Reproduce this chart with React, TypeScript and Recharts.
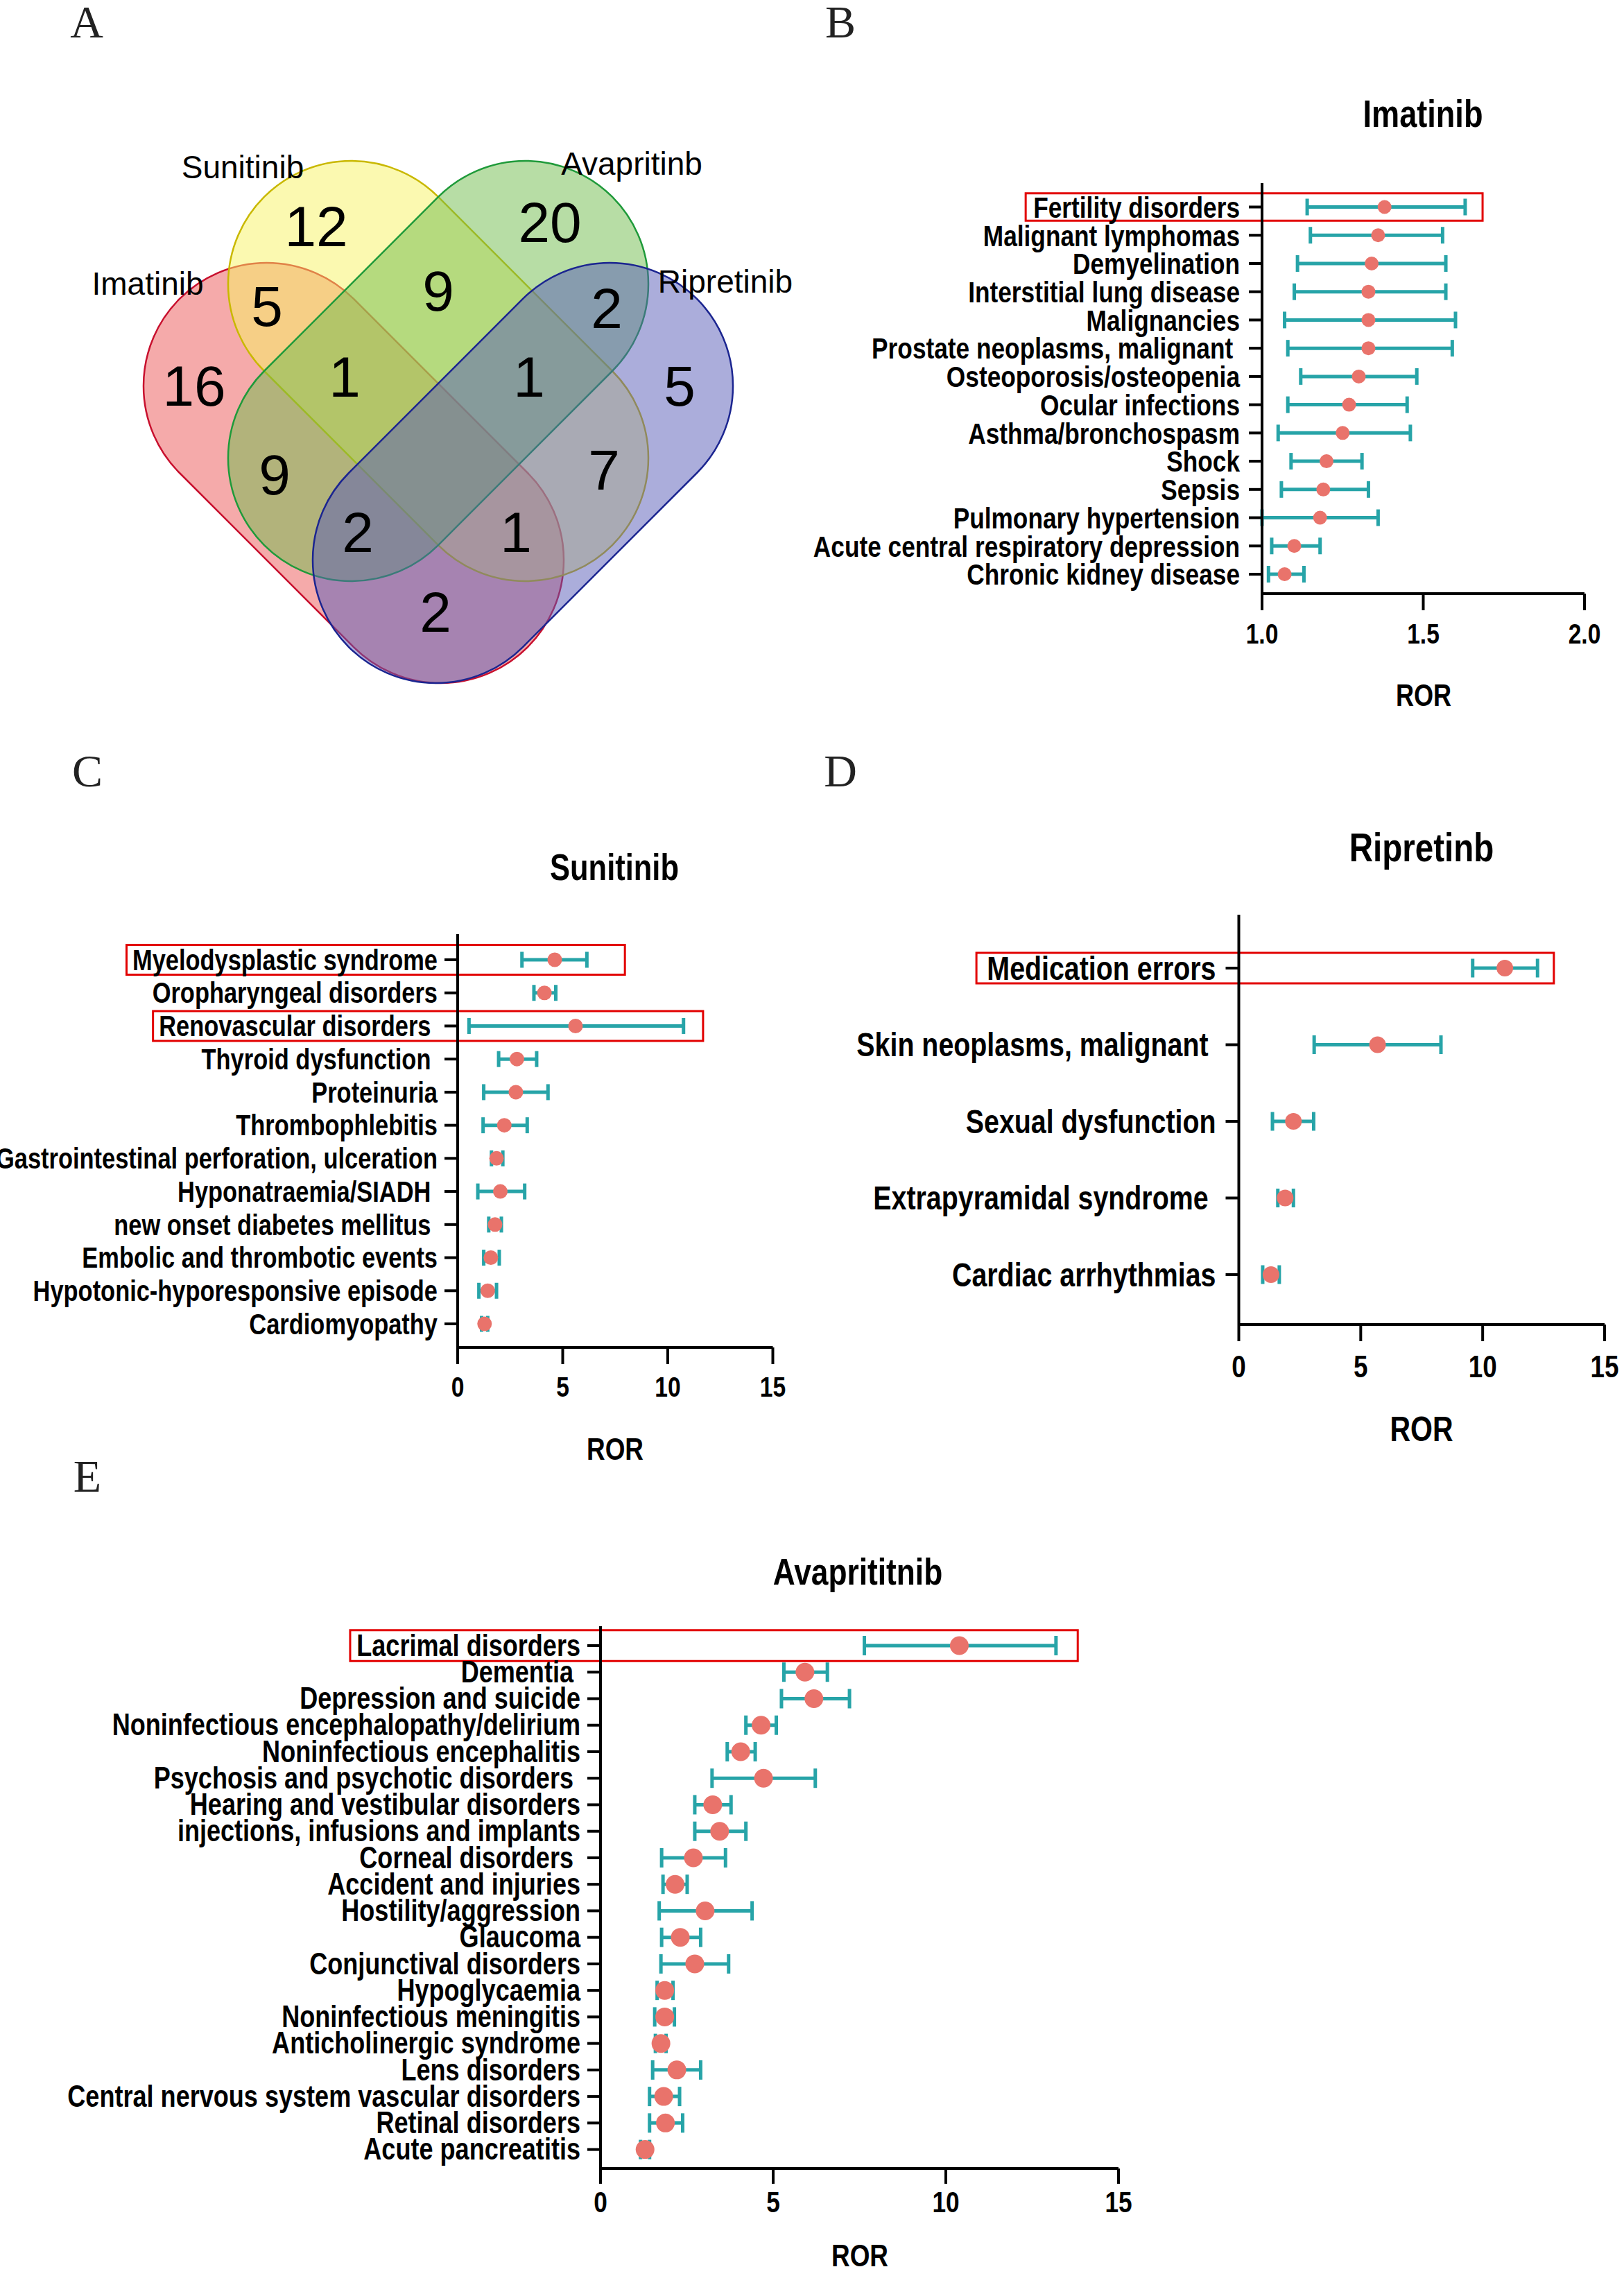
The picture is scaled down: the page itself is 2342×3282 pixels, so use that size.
import React from "react";
import { ScatterChart, Scatter, XAxis, YAxis, ErrorBar, ReferenceArea } from "recharts";

// ---------- panel A: venn counts ----------
const vennSets = ["Imatinib", "Sunitinib", "Avapritinb", "Ripretinib"];
const vennSetX = [510, 632, 632, 754];
const vennSetY = [682, 535, 535, 682];
const vennLabelX = [213, 350, 911, 1046];
const vennLabelY = [409, 241, 236, 406];
const vennCounts = [12, 20, 5, 9, 2, 16, 1, 1, 5, 9, 7, 2, 1, 2];
const vennCountX = [456, 793, 385, 632, 875, 280, 497, 763, 980, 396, 871, 516, 744, 628];
const vennCountY = [326, 320, 441, 419, 444, 556, 543, 543, 556, 684, 677, 767, 767, 882];

// ---------- panel B: Imatinib ----------
const imatinibNames = [
  "Fertility disorders",
  "Malignant lymphomas",
  "Demyelination",
  "Interstitial lung disease",
  "Malignancies",
  "Prostate neoplasms, malignant\u00a0",
  "Osteoporosis/osteopenia",
  "Ocular infections",
  "Asthma/bronchospasm",
  "Shock",
  "Sepsis",
  "Pulmonary hypertension",
  "Acute central respiratory depression",
  "Chronic kidney disease",
];
const imatinibRor = [1.38, 1.36, 1.34, 1.33, 1.33, 1.33, 1.3, 1.27, 1.25, 1.2, 1.19, 1.18, 1.1, 1.07];
const imatinibLow = [1.14, 1.15, 1.11, 1.1, 1.07, 1.08, 1.12, 1.08, 1.05, 1.09, 1.06, 1.0, 1.03, 1.02];
const imatinibHigh = [1.63, 1.56, 1.57, 1.57, 1.6, 1.59, 1.48, 1.45, 1.46, 1.31, 1.33, 1.36, 1.18, 1.13];
const imatinibTicks = [1.0, 1.5, 2.0];

// ---------- panel C: Sunitinib ----------
const sunitinibNames = [
  "Myelodysplastic syndrome",
  "Oropharyngeal disorders",
  "Renovascular disorders\u00a0",
  "Thyroid dysfunction\u00a0",
  "Proteinuria",
  "Thrombophlebitis",
  "Gastrointestinal perforation, ulceration",
  "Hyponatraemia/SIADH\u00a0",
  "new onset diabetes mellitus\u00a0",
  "Embolic and thrombotic events",
  "Hypotonic-hyporesponsive episode",
  "Cardiomyopathy",
];
const sunitinibRor = [4.62, 4.13, 5.61, 2.82, 2.77, 2.22, 1.85, 2.03, 1.78, 1.58, 1.43, 1.28];
const sunitinibLow = [3.06, 3.63, 0.54, 1.95, 1.24, 1.21, 1.61, 0.96, 1.48, 1.24, 1.01, 1.14];
const sunitinibHigh = [6.15, 4.67, 10.75, 3.76, 4.3, 3.31, 2.15, 3.19, 2.08, 1.98, 1.85, 1.43];

// ---------- panel D: Ripretinib ----------
const ripretinibNames = [
  "Medication errors",
  "Skin neoplasms, malignant\u00a0",
  "Sexual dysfunction",
  "Extrapyramidal syndrome\u00a0",
  "Cardiac arrhythmias",
];
const ripretinibRor = [10.91, 5.69, 2.24, 1.9, 1.32];
const ripretinibLow = [9.59, 3.09, 1.38, 1.6, 0.98];
const ripretinibHigh = [12.25, 8.29, 3.07, 2.24, 1.66];

// ---------- panel E: Avapritinib ----------
const avapritinibNames = [
  "Lacrimal disorders",
  "Dementia\u00a0",
  "Depression and suicide",
  "Noninfectious encephalopathy/delirium",
  "Noninfectious encephalitis",
  "Psychosis and psychotic disorders\u00a0",
  "Hearing and vestibular disorders",
  "injections, infusions and implants",
  "Corneal disorders\u00a0",
  "Accident and injuries",
  "Hostility/aggression",
  "Glaucoma",
  "Conjunctival disorders",
  "Hypoglycaemia",
  "Noninfectious meningitis",
  "Anticholinergic syndrome",
  "Lens disorders",
  "Central nervous system vascular disorders",
  "Retinal disorders",
  "Acute pancreatitis",
];
const avapritinibRor = [10.39, 5.92, 6.18, 4.65, 4.06, 4.72, 3.25, 3.45, 2.69, 2.16, 3.03, 2.31, 2.73, 1.86, 1.86, 1.75, 2.21, 1.83, 1.88, 1.29];
const avapritinibLow = [7.64, 5.31, 5.24, 4.21, 3.67, 3.23, 2.73, 2.73, 1.77, 1.81, 1.7, 1.77, 1.75, 1.64, 1.57, 1.59, 1.51, 1.42, 1.42, 1.16];
const avapritinibHigh = [13.19, 6.57, 7.21, 5.09, 4.48, 6.22, 3.78, 4.21, 3.62, 2.51, 4.39, 2.9, 3.71, 2.1, 2.14, 1.9, 2.9, 2.29, 2.38, 1.42];

const rorTicks = [0, 5, 10, 15];

// highlighted rows (red boxes), extents in ROR units
const imatinibBoxes = [{ name: "Fertility disorders", from: 0.267, to: 1.684, half: 0.485 }];
const sunitinibBoxes = [
  { name: "Myelodysplastic syndrome", from: -15.76, to: 7.96, half: 0.45 },
  { name: "Renovascular disorders\u00a0", from: -14.5, to: 11.68, half: 0.45 },
];
const ripretinibBoxes = [{ name: "Medication errors", from: -10.76, to: 12.92, half: 0.2 }];
const avapritinibBoxes = [{ name: "Lacrimal disorders", from: -7.25, to: 13.82, half: 0.58 }];

const SANS = '"Liberation Sans", Arial, sans-serif';
const SERIF = '"Liberation Serif", "Times New Roman", serif';
// no narrow face installed: squeeze Liberation Sans Bold like Arial Narrow
const SQUEEZE = 0.82;
const TEAL = "#27a4a8";
const SALMON = "#e9736b";
const BOX_RED = "#e20000";

const vennStyle: Record<string, { fill: string; stroke: string; angle: number }> = {
  Imatinib: { fill: "#eb5555", stroke: "#c8102e", angle: 45 },
  Sunitinib: { fill: "#f7f361", stroke: "#c9b800", angle: 45 },
  Avapritinb: { fill: "#6fbb4b", stroke: "#1f9a3a", angle: -45 },
  Ripretinib: { fill: "#575bb7", stroke: "#1b2590", angle: -45 },
};

function Stadium(props: any) {
  const { cx, cy, payload } = props;
  const st = vennStyle[payload.name];
  const len = 710;
  const wid = 355;
  return (
    <rect
      x={cx - len / 2}
      y={cy - wid / 2}
      width={len}
      height={wid}
      rx={wid / 2}
      ry={wid / 2}
      transform={`rotate(${st.angle} ${cx} ${cy})`}
      fill={st.fill}
      fillOpacity={0.5}
      stroke={st.stroke}
      strokeWidth={2.5}
    />
  );
}

function CountText(props: any) {
  const { cx, cy, payload } = props;
  return (
    <text x={cx} y={cy} textAnchor="middle" dominantBaseline="central" fontSize={82} fontFamily={SANS} fill="#000">
      {payload.count}
    </text>
  );
}

function SetText(props: any) {
  const { cx, cy, payload } = props;
  return (
    <text x={cx} y={cy} textAnchor="middle" dominantBaseline="central" fontSize={46} fontFamily={SANS} fill="#000">
      {payload.name}
    </text>
  );
}

function VennPanel() {
  const sets = vennSets.map((name, i) => ({ name, x: vennSetX[i], y: vennSetY[i] }));
  const labels = vennSets.map((name, i) => ({ name, x: vennLabelX[i], y: vennLabelY[i] }));
  const counts = vennCounts.map((count, i) => ({ count, x: vennCountX[i], y: vennCountY[i] }));
  return (
    <div style={{ position: "absolute", left: 0, top: 0 }}>
      <ScatterChart width={1170} height={1050} margin={{ top: 0, right: 0, bottom: 0, left: 0 }}>
        <XAxis dataKey="x" type="number" domain={[0, 1170]} hide />
        <YAxis dataKey="y" type="number" domain={[0, 1050]} reversed hide />
        {sets.map((s) => (
          <Scatter key={s.name} data={[s]} shape={Stadium} isAnimationActive={false} />
        ))}
        <Scatter data={counts} shape={CountText} isAnimationActive={false} />
        <Scatter data={labels} shape={SetText} isAnimationActive={false} />
      </ScatterChart>
    </div>
  );
}

function Caption({ text, x, y, size }: { text: string; x: number; y: number; size: number }) {
  return (
    <div
      style={{
        position: "absolute",
        left: x,
        top: y,
        transform: `translate(-50%, -50%) scaleX(${SQUEEZE})`,
        fontFamily: SANS,
        fontWeight: 700,
        fontSize: size,
        lineHeight: 1,
        whiteSpace: "nowrap",
        color: "#000",
      }}
    >
      {text}
    </div>
  );
}

interface Frame {
  chartLeft: number;
  chartTop: number;
  chartRight: number;
  chartBottom: number;
  plotLeft: number;
  plotTop: number;
  plotRight: number;
  plotBottom: number;
  firstRow: number;
  lastRow: number;
  axisBottom: number;
}

interface ForestProps {
  title: string;
  titleX: number;
  titleY: number;
  titleSize: number;
  rorY: number;
  rorSize: number;
  names: string[];
  ror: number[];
  low: number[];
  high: number[];
  boxes: { name: string; from: number; to: number; half: number }[];
  domain: [number, number];
  ticks: number[];
  tickFormat: (v: number) => string;
  frame: Frame;
  labelSize: number;
  tickSize: number;
  labelGap: number;
  xTickGap: number;
  xTickLen: number;
  dotR: number;
  cap: number;
}

function ForestPanel(p: ForestProps) {
  const f = p.frame;
  const rows = p.names.map((name, i) => ({
    name,
    y: i,
    ror: p.ror[i],
    err: [p.ror[i] - p.low[i], p.high[i] - p.ror[i]],
  }));
  const n = p.names.length;
  const step = (f.lastRow - f.firstRow) / (n - 1);
  const yDomain: [number, number] = [-(f.firstRow - f.plotTop) / step, n - 1 + (f.plotBottom - f.lastRow) / step];
  const width = f.chartRight - f.chartLeft;
  const height = f.chartBottom - f.chartTop;
  const dot = (props: any) => <circle cx={props.cx} cy={props.cy} r={p.dotR} fill={SALMON} />;

  const categoryTick = (props: any) => (
    <text
      transform={`translate(${props.x},${props.y}) scale(${SQUEEZE},1)`}
      textAnchor="end"
      dominantBaseline="central"
      fontSize={p.labelSize}
      fontWeight={700}
      fontFamily={SANS}
      fill="#000"
    >
      {p.names[props.payload.value]}
    </text>
  );
  const valueTick = (props: any) => (
    <text
      transform={`translate(${props.x},${props.y}) scale(${SQUEEZE},1)`}
      textAnchor="middle"
      dy="0.72em"
      fontSize={p.tickSize}
      fontWeight={700}
      fontFamily={SANS}
      fill="#000"
    >
      {p.tickFormat(props.payload.value)}
    </text>
  );

  return (
    <>
      <Caption text={p.title} x={p.titleX} y={p.titleY} size={p.titleSize} />
      <div style={{ position: "absolute", left: f.chartLeft, top: f.chartTop }}>
        <ScatterChart
          width={width}
          height={height}
          margin={{ top: f.plotTop - f.chartTop, right: f.chartRight - f.plotRight, bottom: f.chartBottom - f.axisBottom, left: 0 }}
        >
          <XAxis
            dataKey="ror"
            type="number"
            domain={p.domain}
            ticks={p.ticks}
            allowDataOverflow
            height={f.axisBottom - f.plotBottom}
            axisLine={{ stroke: "#000", strokeWidth: 4 }}
            tickLine={{ stroke: "#000", strokeWidth: 4 }}
            tickSize={p.xTickLen}
            tickMargin={p.xTickGap}
            tick={valueTick}
          />
          <YAxis
            dataKey="y"
            type="number"
            reversed
            domain={yDomain}
            ticks={rows.map((r) => r.y)}
            interval={0}
            width={f.plotLeft - f.chartLeft}
            axisLine={{ stroke: "#000", strokeWidth: 4 }}
            tickLine={{ stroke: "#000", strokeWidth: 4 }}
            tickSize={19}
            tickMargin={p.labelGap}
            tick={categoryTick}
          />
          {p.boxes.map((b) => {
            const i = p.names.indexOf(b.name);
            return (
              <ReferenceArea
                key={b.name}
                x1={b.from}
                x2={b.to}
                y1={i - b.half}
                y2={i + b.half}
                ifOverflow="visible"
                fill="none"
                fillOpacity={0}
                stroke={BOX_RED}
                strokeWidth={3}
              />
            );
          })}
          <Scatter data={rows} shape={dot} isAnimationActive={false}>
            <ErrorBar dataKey="err" direction="x" width={p.cap} stroke={TEAL} strokeWidth={5} />
          </Scatter>
        </ScatterChart>
      </div>
      <Caption text="ROR" x={(f.plotLeft + f.plotRight) / 2} y={p.rorY} size={p.rorSize} />
    </>
  );
}

function Letter({ text, x, y }: { text: string; x: number; y: number }) {
  return (
    <div
      style={{
        position: "absolute",
        left: x,
        top: y,
        transform: "translate(-50%, -50%)",
        fontFamily: SERIF,
        fontSize: 66,
        lineHeight: 1,
        color: "#222",
      }}
    >
      {text}
    </div>
  );
}

const oneDecimal = (v: number) => v.toFixed(1);
const integer = (v: number) => String(v);

export default function App() {
  return (
    <div style={{ position: "absolute", left: 0, top: 0, width: 2342, height: 3282, background: "#fff", overflow: "hidden" }}>
      <VennPanel />

      <ForestPanel
        title="Imatinib"
        titleX={2052}
        titleY={164}
        titleSize={55}
        rorY={1003}
        rorSize={44}
        names={imatinibNames}
        ror={imatinibRor}
        low={imatinibLow}
        high={imatinibHigh}
        boxes={imatinibBoxes}
        domain={[1, 2]}
        ticks={imatinibTicks}
        tickFormat={oneDecimal}
        frame={{
          chartLeft: 1170, chartTop: 244, chartRight: 2330, chartBottom: 980,
          plotLeft: 1820, plotTop: 264, plotRight: 2285, plotBottom: 856,
          firstRow: 298.5, lastRow: 828, axisBottom: 960,
        }}
        labelSize={43}
        tickSize={41}
        labelGap={13}
        xTickGap={18}
        xTickLen={24}
        dotR={10}
        cap={12}
      />

      <ForestPanel
        title="Sunitinib"
        titleX={886}
        titleY={1250}
        titleSize={53}
        rorY={2089}
        rorSize={45}
        names={sunitinibNames}
        ror={sunitinibRor}
        low={sunitinibLow}
        high={sunitinibHigh}
        boxes={sunitinibBoxes}
        domain={[0, 15]}
        ticks={rorTicks}
        tickFormat={integer}
        frame={{
          chartLeft: 0, chartTop: 1327, chartRight: 1160, chartBottom: 2060,
          plotLeft: 660, plotTop: 1347, plotRight: 1114.5, plotBottom: 1943,
          firstRow: 1384, lastRow: 1909, axisBottom: 2040,
        }}
        labelSize={42}
        tickSize={41}
        labelGap={10}
        xTickGap={17}
        xTickLen={24}
        dotR={10.5}
        cap={11.5}
      />

      <ForestPanel
        title="Ripretinb"
        titleX={2050}
        titleY={1222}
        titleSize={58}
        rorY={2061}
        rorSize={50}
        names={ripretinibNames}
        ror={ripretinibRor}
        low={ripretinibLow}
        high={ripretinibHigh}
        boxes={ripretinibBoxes}
        domain={[0, 15]}
        ticks={rorTicks}
        tickFormat={integer}
        frame={{
          chartLeft: 1170, chartTop: 1299, chartRight: 2342, chartBottom: 2030,
          plotLeft: 1786.5, plotTop: 1319, plotRight: 2314, plotBottom: 1910,
          firstRow: 1396, lastRow: 1838, axisBottom: 2010,
        }}
        labelSize={48}
        tickSize={45}
        labelGap={14}
        xTickGap={20}
        xTickLen={24}
        dotR={12}
        cap={13.5}
      />

      <ForestPanel
        title="Avaprititnib"
        titleX={1237}
        titleY={2266}
        titleSize={54}
        rorY={3252}
        rorSize={45}
        names={avapritinibNames}
        ror={avapritinibRor}
        low={avapritinibLow}
        high={avapritinibHigh}
        boxes={avapritinibBoxes}
        domain={[0, 15]}
        ticks={rorTicks}
        tickFormat={integer}
        frame={{
          chartLeft: 0, chartTop: 2325, chartRight: 1700, chartBottom: 3230,
          plotLeft: 866, plotTop: 2345, plotRight: 1613, plotBottom: 3127,
          firstRow: 2373, lastRow: 3099.6, axisBottom: 3210,
        }}
        labelSize={44}
        tickSize={43}
        labelGap={10}
        xTickGap={10}
        xTickLen={22}
        dotR={13.5}
        cap={14}
      />

      <Letter text="A" x={125} y={32} />
      <Letter text="B" x={1212} y={32} />
      <Letter text="C" x={126} y={1112} />
      <Letter text="D" x={1212} y={1112} />
      <Letter text="E" x={126} y={2129} />
    </div>
  );
}
